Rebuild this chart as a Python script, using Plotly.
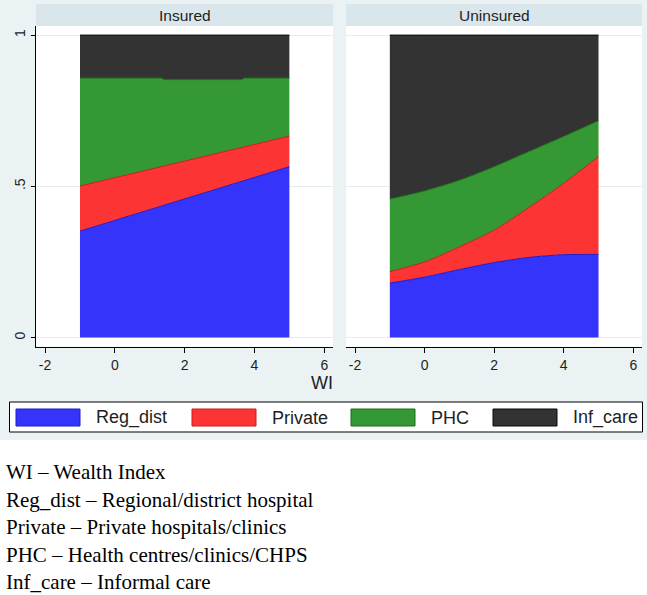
import plotly.graph_objects as go

W, H = 647, 595


def px(x):
    return x / W


def py(y):
    return 1 - y / H


# ---------------- data ----------------
categories = ["Reg_dist", "Private", "PHC", "Inf_care"]
panels = ["Insured", "Uninsured"]
x_ticks = [-2, 0, 2, 4, 6]
x_ticktext = ["-2", "0", "2", "4", "6"]
y_ticks = [0, 0.5, 1]
y_ticktext = ["0", ".5", "1"]
x_title = "WI"

# Insured (shares of each category, stacked)
wi_ins = [-1, 1.35, 1.4, 3.65, 3.7, 5]
ins_reg_dist = [0.352, 0.435, 0.437, 0.517, 0.519, 0.565]
ins_private = [0.149, 0.131, 0.130, 0.112, 0.111, 0.101]
ins_phc = [0.357, 0.292, 0.286, 0.224, 0.228, 0.192]
ins_inf_care = [0.142, 0.142, 0.147, 0.147, 0.142, 0.142]

# Uninsured
wi_unins = [-1, 0, 1, 2, 3, 4, 5]
unins_reg_dist = [0.180, 0.200, 0.225, 0.248, 0.265, 0.274, 0.275]
unins_private = [0.038, 0.050, 0.075, 0.107, 0.165, 0.236, 0.323]
unins_phc = [0.240, 0.235, 0.220, 0.210, 0.185, 0.155, 0.119]
unins_inf_care = [0.542, 0.515, 0.480, 0.435, 0.385, 0.335, 0.283]

notes = [
    "WI \u2013 Wealth Index",
    "Reg_dist \u2013 Regional/district hospital",
    "Private \u2013 Private hospitals/clinics",
    "PHC \u2013 Health centres/clinics/CHPS",
    "Inf_care \u2013 Informal care",
]

# ---------------- style ----------------
fill_colors = ["#3434fb", "#fd3434", "#349834", "#333333"]
line_colors = ["#1c1cc8", "#c81c1c", "#1d6f1d", "#0a0a0a"]
sans = "Liberation Sans, Arial, sans-serif"
serif = "Liberation Serif, Times New Roman, serif"
bg = "#eaf2f3"
strip = "#d9e6eb"
grid = "#e4ecee"
txt = "#1e1e1e"

fig = go.Figure()

ins_series = [ins_reg_dist, ins_private, ins_phc, ins_inf_care]
unins_series = [unins_reg_dist, unins_private, unins_phc, unins_inf_care]

for i, cat in enumerate(categories):
    fig.add_trace(go.Scatter(
        x=wi_ins, y=ins_series[i], name=cat, stackgroup="ins", mode="lines",
        line=dict(color=line_colors[i], width=1), fillcolor=fill_colors[i],
        xaxis="x", yaxis="y", showlegend=False, hoverinfo="skip"))
for i, cat in enumerate(categories):
    fig.add_trace(go.Scatter(
        x=wi_unins, y=unins_series[i], name=cat, stackgroup="unins", mode="lines",
        line=dict(color=line_colors[i], width=1, shape="spline", smoothing=0.8),
        fillcolor=fill_colors[i],
        xaxis="x2", yaxis="y2", showlegend=False, hoverinfo="skip"))

# panel geometry (pixels)
plot_top, plot_bot = 26, 346.7
left_dom = (36, 333)
right_dom = (346, 642)
xrange_ = [-2.26, 6.25]
yrange_ = [-0.03, 1.03]

xaxis_common = dict(
    range=xrange_, tickvals=x_ticks, ticktext=x_ticktext, ticks="outside",
    ticklen=5, tickcolor="black", tickwidth=1, showline=True,
    linecolor="black", linewidth=1, showgrid=False, zeroline=False,
    tickfont=dict(family=sans, size=14, color=txt), fixedrange=True)

fig.update_layout(
    width=W, height=H, autosize=False,
    margin=dict(l=0, r=0, t=0, b=0),
    paper_bgcolor=bg, plot_bgcolor="white",
    xaxis=dict(domain=[px(left_dom[0]), px(left_dom[1])], anchor="y", **xaxis_common),
    xaxis2=dict(domain=[px(right_dom[0]), px(right_dom[1])], anchor="y2", **xaxis_common),
    yaxis=dict(domain=[py(plot_bot), py(plot_top)], range=yrange_, tickvals=y_ticks,
               ticktext=y_ticktext, tickangle=-90, ticks="outside", ticklen=4,
               tickcolor="black", showline=True, linecolor="black", linewidth=1,
               showgrid=True, gridcolor=grid, gridwidth=1, zeroline=False,
               tickfont=dict(family=sans, size=14, color=txt), fixedrange=True,
               anchor="x"),
    yaxis2=dict(domain=[py(plot_bot), py(plot_top)], range=yrange_, tickvals=y_ticks,
                showticklabels=False, ticks="", showline=False, showgrid=True,
                gridcolor=grid, gridwidth=1, zeroline=False, fixedrange=True,
                anchor="x2"),
)

shapes = []
annotations = []

# white lower region
shapes.append(dict(type="rect", xref="paper", yref="paper", x0=0, x1=1,
                   y0=0, y1=py(440), fillcolor="white", line=dict(width=0),
                   layer="below"))

# strip headers
for name, dom in zip(panels, [left_dom, right_dom]):
    shapes.append(dict(type="rect", xref="paper", yref="paper",
                       x0=px(dom[0]), x1=px(dom[1]), y0=py(26), y1=py(4),
                       fillcolor=strip, line=dict(width=0), layer="below"))
    annotations.append(dict(text=name, xref="paper", yref="paper",
                            x=px((dom[0] + dom[1]) / 2), y=py(15),
                            xanchor="center", yanchor="middle", showarrow=False,
                            font=dict(family=sans, size=15.5, color=txt)))

# x-axis title (right aligned under left panel)
annotations.append(dict(text=x_title, xref="paper", yref="paper",
                        x=px(335), y=py(383), xanchor="right", yanchor="middle",
                        showarrow=False, font=dict(family=sans, size=18, color=txt)))

# legend box
shapes.append(dict(type="rect", xref="paper", yref="paper",
                   x0=px(9.5), x1=px(642.5), y0=py(432), y1=py(402),
                   fillcolor="white", line=dict(color="black", width=1)))
key_left = [16, 192, 351, 493]
for i, cat in enumerate(categories):
    k = key_left[i]
    shapes.append(dict(type="rect", xref="paper", yref="paper",
                       x0=px(k), x1=px(k + 64), y0=py(426), y1=py(409),
                       fillcolor=fill_colors[i],
                       line=dict(color=line_colors[i], width=1)))
    annotations.append(dict(text=cat, xref="paper", yref="paper",
                            x=px(k + 78), y=py(418), xanchor="left",
                            yanchor="middle", showarrow=False,
                            font=dict(family=sans, size=18, color=txt)))

# notes under the chart
for j, line in enumerate(notes):
    annotations.append(dict(text=line, xref="paper", yref="paper",
                            x=px(4), y=py(472 + 27.5 * j), xanchor="left",
                            yanchor="middle", showarrow=False,
                            font=dict(family=serif, size=21, color="black")))

fig.update_layout(shapes=shapes, annotations=annotations)

fig.write_html(
    "out.html",
    config={"displayModeBar": False},
    post_script="document.body.style.margin='0';document.body.style.overflow='hidden';",
)
